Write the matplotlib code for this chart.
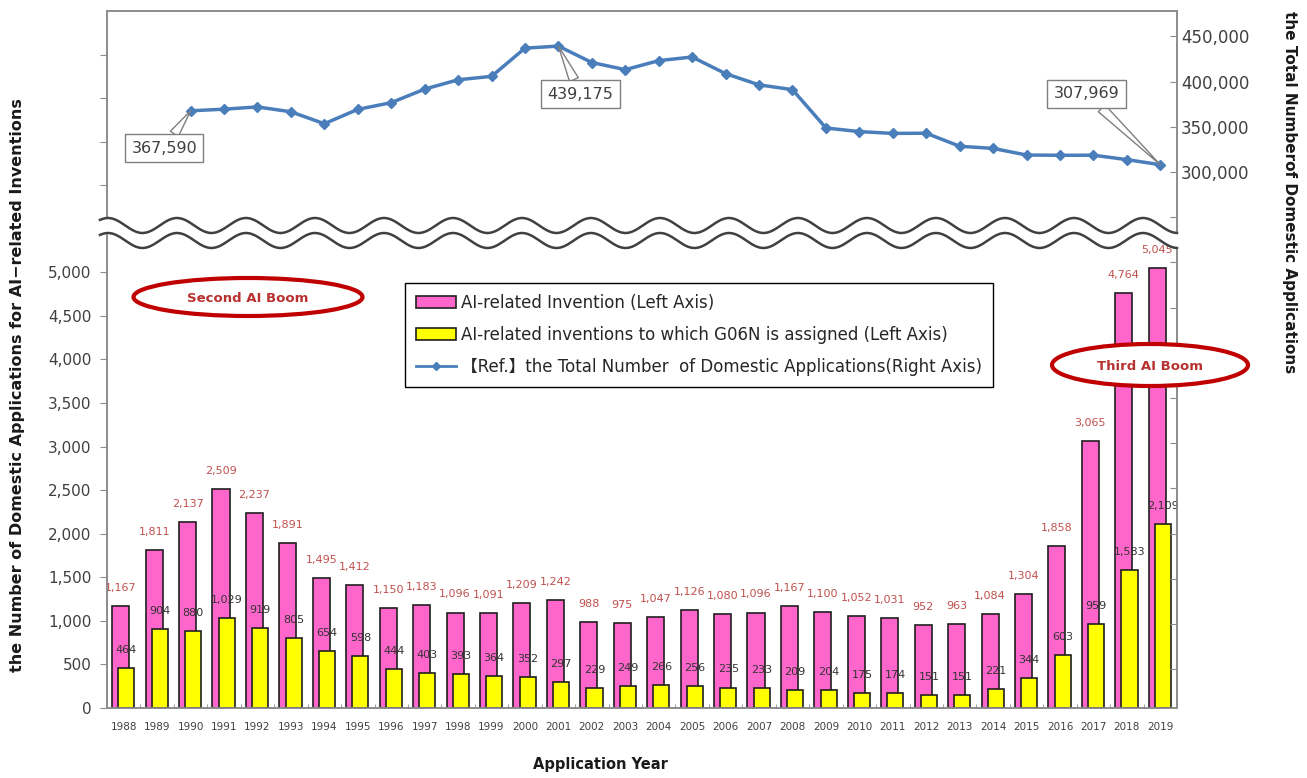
import matplotlib
matplotlib.use('Agg')
import matplotlib.pyplot as plt
import numpy as np
from matplotlib.patches import Ellipse, Patch
from matplotlib.lines import Line2D
from matplotlib.ticker import FuncFormatter
from matplotlib.font_manager import FontProperties

# ---------------- data ----------------
years = ['1988', '1989', '1990', '1991', '1992', '1993', '1994', '1995', '1996', '1997',
         '1998', '1999', '2000', '2001', '2002', '2003', '2004', '2005', '2006', '2007',
         '2008', '2009', '2010', '2011', '2012', '2013', '2014', '2015', '2016', '2017',
         '2018', '2019']
ai_inventions = [1167, 1811, 2137, 2509, 2237, 1891, 1495, 1412, 1150, 1183,
                 1096, 1091, 1209, 1242, 988, 975, 1047, 1126, 1080, 1096,
                 1167, 1100, 1052, 1031, 952, 963, 1084, 1304, 1858, 3065,
                 4764, 5045]
g06n_inventions = [464, 904, 880, 1029, 919, 805, 654, 598, 444, 403,
                   393, 364, 352, 297, 229, 249, 266, 256, 235, 233,
                   209, 204, 175, 174, 151, 151, 221, 344, 603, 959,
                   1583, 2109]
total_years = ['1990', '1991', '1992', '1993', '1994', '1995', '1996', '1997', '1998', '1999',
               '2000', '2001', '2002', '2003', '2004', '2005', '2006', '2007', '2008', '2009',
               '2010', '2011', '2012', '2013', '2014', '2015', '2016', '2017', '2018', '2019']
total_apps = [367590, 369400, 371900, 366500, 353300, 369200, 376600, 391600, 401900, 405700,
              436900, 439175, 421000, 413100, 423100, 427100, 408700, 396300, 391000, 348600,
              344600, 342600, 342800, 328400, 326000, 318700, 318400, 318500, 313600, 307969]

legend_labels = ['AI-related Invention (Left Axis)',
                 'AI-related inventions to which G06N is assigned (Left Axis)',
                 '【Ref.】the Total Number  of Domestic Applications(Right Axis)']

# ---------------- style ----------------
W, H = 1307, 778
PINK = '#FF66CC'
YELLOW = '#FFFF00'
EDGE = '#1f1f1f'
LINE = '#4A7EBB'
GRAY = '#8c8c8c'
TXT = '#404040'
RED = '#C00000'

fig = plt.figure(figsize=(W / 100, H / 100), dpi=100)
ax = fig.add_axes([107 / W, 1 - 708 / H, 1070 / W, 697 / H])

x = np.arange(len(years))
ax.bar(x - 0.09, ai_inventions, width=0.51, color=PINK, edgecolor=EDGE, linewidth=1.2, zorder=2)
ax.bar(x + 0.08, g06n_inventions, width=0.48, color=YELLOW, edgecolor=EDGE, linewidth=1.2, zorder=3)

for xi, v in zip(x, ai_inventions):
    ax.annotate(f'{v:,}', (xi - 0.09, v), xytext=(0, 13), textcoords='offset points',
                ha='center', va='center', fontsize=8, color='#C0504D', zorder=6)
for xi, v in zip(x, g06n_inventions):
    ax.annotate(f'{v:,}', (xi + 0.08, v), xytext=(0, 13), textcoords='offset points',
                ha='center', va='center', fontsize=8, color='#333333', zorder=6)

ax.set_xlim(-0.5, len(years) - 0.5)
ax.set_ylim(0, 8000)
ax.set_yticks(np.arange(0, 8000, 500))
ax.yaxis.set_major_formatter(FuncFormatter(lambda v, p: f'{int(v):,}' if v <= 5000 else ''))
ax.tick_params(axis='y', direction='out', length=5, color=GRAY, labelsize=11, labelcolor=TXT, pad=6)
ax.set_xticks(x)
ax.set_xticklabels(years)
ax.tick_params(axis='x', which='major', length=0, pad=10, labelsize=7.5, labelcolor=TXT)
ax.set_xticks(np.arange(-0.5, len(years), 1), minor=True)
ax.tick_params(axis='x', which='minor', direction='in', length=3, color=GRAY)
for s in ax.spines.values():
    s.set_color(GRAY)
    s.set_linewidth(1.2)

# ---------------- line (right axis) ----------------
ax2 = ax.twinx()
xl = [years.index(y) for y in total_years]
ax2.plot(xl, total_apps, color=LINE, linewidth=2.5, marker='D', markersize=5, zorder=3)
ax2.set_ylim(-293000, 478000)
ax2.set_yticks(np.arange(-250000, 450001, 50000))
ax2.yaxis.set_major_formatter(FuncFormatter(lambda v, p: f'{int(v):,}' if v >= 300000 else ''))
ax2.tick_params(axis='y', direction='in', length=5, color=GRAY, labelsize=12, labelcolor=TXT, pad=3)
for s in ax2.spines.values():
    s.set_color(GRAY)
    s.set_linewidth(1.2)

imax = int(np.argmax(total_apps))
callouts = [(0, (-19, -27)), (imax, (16, -34.5)), (len(total_apps) - 1, (-53, 51))]
for idx, off in callouts:
    v = total_apps[idx]
    ax2.annotate(f'{v:,}', xy=(xl[idx], v), xytext=off, textcoords='offset points',
                 ha='center', va='center', fontsize=11.5, color=TXT, zorder=7,
                 bbox=dict(boxstyle='square,pad=0.4', fc='white', ec='#7f7f7f', lw=1),
                 arrowprops=dict(arrowstyle='wedge,tail_width=0.6,shrink_factor=0.5',
                                 fc='white', ec='#7f7f7f', lw=1, shrinkA=0, shrinkB=0))

# ---------------- legend ----------------
handles = [Patch(facecolor=PINK, edgecolor=EDGE, linewidth=1.2),
           Patch(facecolor=YELLOW, edgecolor=EDGE, linewidth=1.2),
           Line2D([], [], color=LINE, linewidth=2, marker='D', markersize=4)]
leg = ax2.legend(handles, legend_labels, loc='upper left',
                 bbox_to_anchor=(405 / W, 1 - 283 / H), bbox_transform=fig.transFigure,
                 prop=FontProperties(family=['DejaVu Sans', 'Noto Sans CJK JP'], size=12),
                 frameon=True, fancybox=False, edgecolor='black', framealpha=1,
                 borderpad=0.65, labelspacing=0.85, handlelength=2.4, handletextpad=0.3,
                 borderaxespad=0)
leg.get_frame().set_linewidth(1.0)
for t in leg.get_texts():
    t.set_color('#262626')

# ---------------- overlay: axis break, ellipses ----------------
ov = fig.add_axes([0, 0, 1, 1], zorder=5)
ov.set_xlim(0, W)
ov.set_ylim(H, 0)
ov.axis('off')
ov.patch.set_alpha(0)

xs = np.linspace(100, 1177, 800)
up = 225.5 - 7.5 * np.cos(2 * np.pi * (xs - 177) / 69)
lo = up + 15
ov.fill_between(xs, up, lo, color='white', zorder=1)
ov.plot(xs, up, color='#404040', lw=1.8, zorder=2)
ov.plot(xs, lo, color='#404040', lw=1.8, zorder=2)

ov.add_patch(Ellipse((248, 297), 229, 38, facecolor='white', edgecolor=RED, linewidth=3, zorder=3))
ov.text(248, 298, 'Second AI Boom', ha='center', va='center', fontsize=9.5,
        fontweight='bold', color='#B8312F', zorder=4)
ov.add_patch(Ellipse((1150, 365), 196, 42, facecolor='white', edgecolor=RED, linewidth=3, zorder=3))
ov.text(1150, 366, 'Third AI Boom', ha='center', va='center', fontsize=9.5,
        fontweight='bold', color='#B8312F', zorder=4)

# ---------------- axis titles ----------------
fig.text(18 / W, 1 - 385 / H, 'the Number of Domestic Applications for AI\u2212related Inventions',
         rotation=90, ha='center', va='center', fontsize=11.5, fontweight='bold', color='#1a1a1a')
fig.text(1290 / W, 1 - 192 / H, 'the Total Numberof Domestic Applications',
         rotation=270, ha='center', va='center', fontsize=11, fontweight='bold', color='#1a1a1a')
fig.text(600 / W, 1 - 765 / H, 'Application Year', ha='center', va='center',
         fontsize=10.5, fontweight='bold', color='#1a1a1a')

fig.savefig('out.png', dpi=100)
